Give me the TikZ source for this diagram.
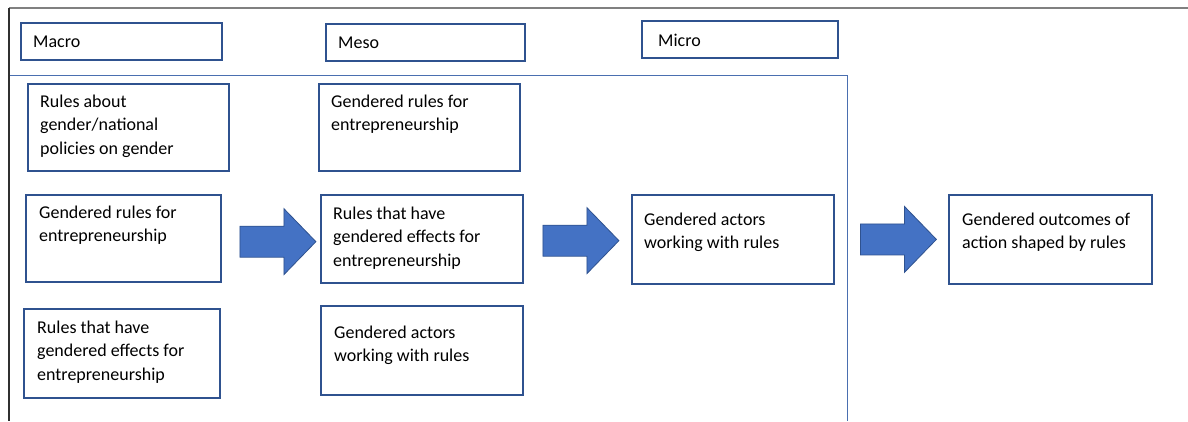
\documentclass[tikz,border=0pt]{standalone}
\usepackage{fontspec}
\setmainfont{Carlito}
\usetikzlibrary{calc}
\definecolor{boxline}{HTML}{2F528F}
\definecolor{arrowfill}{HTML}{4472C4}
\definecolor{frameline}{HTML}{4A6FB0}
\definecolor{topline}{HTML}{808080}
\definecolor{leftline}{HTML}{303030}
\tikzset{
  box/.style={draw=boxline, line width=1.8pt, fill=white, anchor=north west, inner sep=0pt},
  label/.style={anchor=base west, align=left, inner sep=0pt, font=\fontsize{18}{23.5}\selectfont},
  blockarrow/.style={fill=arrowfill, draw=boxline, line width=0.8pt, line join=miter}
}
\newcommand{\mkbox}[5]{% name, x1, y1, x2, y2
  \node[box, minimum width=#4pt-#2pt, minimum height=#5pt-#3pt] (#1) at (#2,#3) {};
}
\newcommand{\blockarr}[1]{%
  \draw[blockarrow] ($(#1)+(-38,-15.5)$) -- ($(#1)+(6,-15.5)$) -- ($(#1)+(6,-33)$)
    -- ($(#1)+(38,0)$) -- ($(#1)+(6,33)$) -- ($(#1)+(6,15.5)$) -- ($(#1)+(-38,15.5)$) -- cycle;
}
\begin{document}
\begin{tikzpicture}[x=1pt,y=-1pt]
\useasboundingbox (0,0) rectangle (1188,421);
\fill[white] (0,0) rectangle (1188,421);
% frames
\coordinate (ftl) at (9,8);
\coordinate (ftr) at (1188,8);
\coordinate (fbl) at (9,421);
\coordinate (itl) at (9,75.5);
\coordinate (itr) at (847.5,75.5);
\coordinate (ibr) at (847.5,421);
\draw[frameline, line width=1.2pt] (itl) -- (itr) -- (ibr);
\draw[topline, line width=2pt] (ftl) -- (ftr);
\draw[leftline, line width=1.5pt] (ftl) -- (fbl);
% header boxes
\mkbox{hmacro}{20}{22}{221}{59}
\mkbox{hmeso}{325}{23}{524}{60}
\mkbox{hmicro}{641}{20}{837}{57}
\node[label] (tmacro) at (33,47) {Macro};
\node[label] (tmeso) at (338,48) {Meso};
\node[label] (tmicro) at (658,46) {Micro};
% macro column (base anchor = last line's baseline)
\mkbox{m1}{27}{83}{228}{170}
\mkbox{m2}{25}{194}{220}{281}
\mkbox{m3}{23}{308}{219}{397}
\node[label] (tm1) at (40,154) {Rules about\\gender/national\\policies on gender};
\node[label] (tm2) at (39,241.5) {Gendered rules for\\entrepreneurship};
\node[label] (tm3) at (37,380) {Rules that have\\gendered effects for\\entrepreneurship};
% meso column
\mkbox{s1}{318}{83}{519}{170}
\mkbox{s2}{320}{194}{522}{282}
\mkbox{s3}{320}{305}{522}{394}
\node[label] (ts1) at (331,130.5) {Gendered rules for\\entrepreneurship};
\node[label] (ts2) at (333,266) {Rules that have\\gendered effects for\\entrepreneurship};
\node[label] (ts3) at (334,361.5) {Gendered actors\\working with rules};
% micro and outcome
\mkbox{mi}{631}{194}{833}{283}
\mkbox{out}{948}{194}{1151}{283}
\node[label] (tmi) at (644,248.5) {Gendered actors\\working with rules};
\node[label] (tout) at (962,248.5) {Gendered outcomes of\\action shaped by rules};
% arrows
\coordinate (a1) at ($(m2.east)!0.5!(s2.west)+(7,3)$);
\coordinate (a2) at ($(s2.east)!0.5!(mi.west)+(3.5,1.5)$);
\coordinate (a3) at ($(mi.east)!0.5!(out.west)+(7,0)$);
\blockarr{a1}
\blockarr{a2}
\blockarr{a3}
\end{tikzpicture}
\end{document}
